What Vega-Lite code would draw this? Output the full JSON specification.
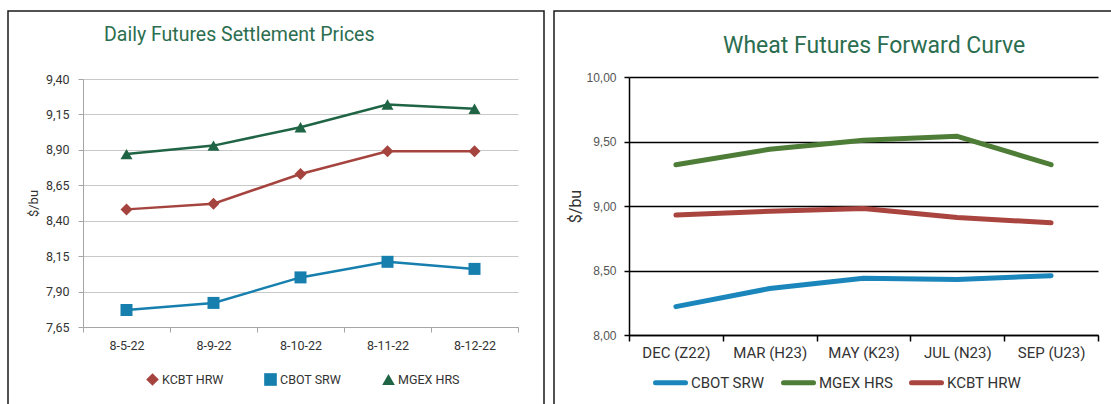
{
  "$schema": "https://vega.github.io/schema/vega-lite/v6.json",
  "background": "white",
  "padding": {"left": 7, "top": 10, "right": 0, "bottom": 0},
  "spacing": 8,
  "config": {
    "font": "Roboto",
    "view": {"stroke": "#1a1a1a", "strokeWidth": 1.5},
    "concat": {"spacing": 8}
  },
  "resolve": {
    "scale": {"color": "independent", "shape": "independent", "x": "independent", "y": "independent"},
    "legend": {"color": "independent", "shape": "independent"}
  },
  "datasets": {
    "daily": [
      {"date": "8-5-22", "series": "KCBT HRW", "price": 8.48},
      {"date": "8-9-22", "series": "KCBT HRW", "price": 8.52},
      {"date": "8-10-22", "series": "KCBT HRW", "price": 8.73},
      {"date": "8-11-22", "series": "KCBT HRW", "price": 8.89},
      {"date": "8-12-22", "series": "KCBT HRW", "price": 8.89},
      {"date": "8-5-22", "series": "CBOT SRW", "price": 7.77},
      {"date": "8-9-22", "series": "CBOT SRW", "price": 7.82},
      {"date": "8-10-22", "series": "CBOT SRW", "price": 8.00},
      {"date": "8-11-22", "series": "CBOT SRW", "price": 8.11},
      {"date": "8-12-22", "series": "CBOT SRW", "price": 8.06},
      {"date": "8-5-22", "series": "MGEX HRS", "price": 8.87},
      {"date": "8-9-22", "series": "MGEX HRS", "price": 8.93},
      {"date": "8-10-22", "series": "MGEX HRS", "price": 9.06},
      {"date": "8-11-22", "series": "MGEX HRS", "price": 9.22},
      {"date": "8-12-22", "series": "MGEX HRS", "price": 9.19}
    ],
    "forward": [
      {"contract": "DEC (Z22)", "series": "CBOT SRW", "price": 8.22},
      {"contract": "MAR (H23)", "series": "CBOT SRW", "price": 8.36},
      {"contract": "MAY (K23)", "series": "CBOT SRW", "price": 8.44},
      {"contract": "JUL (N23)", "series": "CBOT SRW", "price": 8.43},
      {"contract": "SEP (U23)", "series": "CBOT SRW", "price": 8.46},
      {"contract": "DEC (Z22)", "series": "MGEX HRS", "price": 9.32},
      {"contract": "MAR (H23)", "series": "MGEX HRS", "price": 9.44},
      {"contract": "MAY (K23)", "series": "MGEX HRS", "price": 9.51},
      {"contract": "JUL (N23)", "series": "MGEX HRS", "price": 9.54},
      {"contract": "SEP (U23)", "series": "MGEX HRS", "price": 9.32},
      {"contract": "DEC (Z22)", "series": "KCBT HRW", "price": 8.93},
      {"contract": "MAR (H23)", "series": "KCBT HRW", "price": 8.96},
      {"contract": "MAY (K23)", "series": "KCBT HRW", "price": 8.98},
      {"contract": "JUL (N23)", "series": "KCBT HRW", "price": 8.91},
      {"contract": "SEP (U23)", "series": "KCBT HRW", "price": 8.87}
    ]
  },
  "hconcat": [
    {
      "width": 536,
      "height": 400,
      "title": {"text": "Daily Futures Settlement Prices", "anchor": "start", "frame": "group", "dx": 96, "offset": -49, "baseline": "alphabetic", "fontSize": 19.5, "fontWeight": "normal", "color": "#2b6e4f", "font": "Roboto"},
      "data": {"name": "daily"},
      "encoding": {
        "x": {
          "field": "date", "type": "ordinal", "sort": null,
          "scale": {"type": "band", "range": [75, 510], "paddingInner": 0, "paddingOuter": 0},
          "axis": {"title": null, "offset": -84, "tickBand": "extent", "grid": false, "domainColor": "#a6a6a6", "tickColor": "#a6a6a6", "tickSize": 5, "labelPadding": 7, "labelFontSize": 12.5, "labelColor": "#333333", "labelAngle": 0}
        },
        "y": {
          "field": "price", "type": "quantitative",
          "scale": {"domain": [7.65, 9.4], "range": [316, 68], "zero": false, "nice": false},
          "axis": {"title": "$/bu", "offset": -75, "values": [7.65, 7.9, 8.15, 8.4, 8.65, 8.9, 9.15, 9.4], "labelExpr": "replace(format(datum.value, '.2f'), '.', ',')", "grid": true, "gridColor": "#c8c8c8", "domainColor": "#a6a6a6", "tickColor": "#a6a6a6", "tickSize": 5, "labelPadding": 9, "labelFontSize": 12.5, "labelColor": "#333333", "titleFontSize": 13, "titleColor": "#333333", "titleFontWeight": "normal", "titlePadding": 5}
        },
        "color": {"field": "series", "type": "nominal", "scale": {"domain": ["KCBT HRW", "CBOT SRW", "MGEX HRS"], "range": ["#a5443f", "#167fae", "#1f6444"]},
          "legend": {"orient": "none", "legendX": 138, "legendY": 362, "direction": "horizontal", "title": null, "symbolSize": 160, "symbolStrokeWidth": 0, "symbolOpacity": 1, "columnPadding": 40, "labelOffset": 3, "labelFontSize": 12.5, "labelColor": "#333333"}}
      },
      "layer": [
        {
          "mark": {"type": "line", "strokeWidth": 2.5}
        },
        {
          "mark": {"type": "point", "filled": true, "opacity": 1, "size": 144},
          "encoding": {
            "shape": {"field": "series", "type": "nominal", "scale": {"domain": ["KCBT HRW", "CBOT SRW", "MGEX HRS"], "range": ["diamond", "square", "triangle-up"]}, "legend": null}
          }
        }
      ]
    },
    {
      "width": 570,
      "height": 400,
      "title": {"text": "Wheat Futures Forward Curve", "anchor": "start", "frame": "group", "dx": 169, "offset": -65, "baseline": "alphabetic", "fontSize": 23, "fontWeight": "normal", "color": "#2b6e4f", "font": "Roboto"},
      "data": {"name": "forward"},
      "mark": {"type": "line", "strokeWidth": 5, "strokeCap": "round", "strokeJoin": "round"},
      "encoding": {
        "x": {
          "field": "contract", "type": "ordinal", "sort": null,
          "scale": {"type": "band", "range": [75, 544], "paddingInner": 0, "paddingOuter": 0},
          "axis": {"title": null, "offset": -76, "tickBand": "extent", "grid": false, "domainColor": "#000000", "domainWidth": 1.5, "tickColor": "#000000", "tickWidth": 1.5, "tickSize": 6, "labelPadding": 4, "labelFontSize": 15, "labelColor": "#333333", "labelAngle": 0}
        },
        "y": {
          "field": "price", "type": "quantitative",
          "scale": {"domain": [8, 10], "range": [324, 66], "zero": false, "nice": false},
          "axis": {"title": "$/bu", "offset": -75, "values": [8, 8.5, 9, 9.5, 10], "labelExpr": "replace(format(datum.value, '.2f'), '.', ',')", "grid": true, "gridColor": "#000000", "gridWidth": 1.5, "domainColor": "#000000", "domainWidth": 1.5, "tickColor": "#000000", "tickWidth": 1.5, "tickSize": 5, "labelPadding": 8, "labelFont": "Liberation Sans", "labelFontSize": 12, "labelColor": "#555555", "titleFont": "Roboto", "titleFontSize": 16, "titleColor": "#333333", "titleFontWeight": "normal", "titlePadding": 2}
        },
        "color": {
          "field": "series", "type": "nominal",
          "scale": {"domain": ["CBOT SRW", "MGEX HRS", "KCBT HRW"], "range": ["#1a86bb", "#4e7d38", "#a9443f"]},
          "legend": {"orient": "none", "legendX": 99, "legendY": 354, "direction": "horizontal", "title": null, "symbolType": "stroke", "symbolStrokeWidth": 5, "symbolSize": 900, "columnPadding": 8, "labelOffset": 3, "labelFontSize": 15, "labelColor": "#333333",
            "encode": {"symbols": {"update": {"strokeCap": {"value": "round"}}}}}
        }
      }
    }
  ]
}
